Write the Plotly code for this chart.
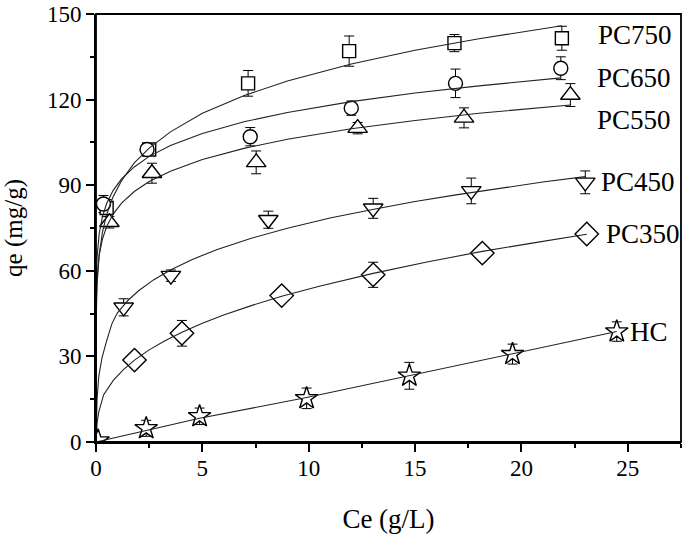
import plotly.graph_objects as go

# ---------------- data ----------------
HC_ce = [0.1, 2.36, 4.87, 9.9, 14.73, 19.58, 24.48]
HC_qe = [0.5, 4.8, 9.0, 15.3, 23.2, 30.8, 38.7]
HC_err = [0.5, 2.8, 2.9, 3.6, 4.7, 3.5, 3.4]

PC350_ce = [1.81, 4.04, 8.73, 13.03, 18.16, 23.07]
PC350_qe = [28.7, 38.1, 51.3, 58.6, 66.2, 72.9]
PC350_err = [1.5, 4.5, 1.5, 4.4, 1.5, 1.0]

PC450_ce = [1.3, 3.52, 8.1, 13.03, 17.64, 23.0]
PC450_qe = [47.2, 58.3, 77.9, 81.9, 88.0, 91.0]
PC450_err = [3.0, 2.0, 3.0, 3.5, 4.5, 4.0]

PC550_ce = [0.63, 2.63, 7.53, 12.3, 17.3, 22.3]
PC550_qe = [77.0, 94.2, 98.0, 110.0, 113.6, 121.6]
PC550_err = [2.0, 3.5, 4.0, 2.0, 3.5, 4.0]

PC650_ce = [0.35, 2.4, 7.25, 12.0, 16.9, 21.85]
PC650_qe = [83.4, 102.5, 107.0, 117.0, 125.7, 131.0]
PC650_err = [3.0, 1.5, 3.2, 2.5, 5.0, 4.0]

PC750_ce = [0.5, 2.5, 7.15, 11.9, 16.85, 21.9]
PC750_qe = [82.0, 102.5, 125.7, 137.0, 139.8, 141.5]
PC750_err = [3.0, 2.0, 4.5, 5.3, 3.0, 4.2]

# fitted isotherm curves
FIT750_ce = [0, 0.002, 0.01, 0.05, 0.15, 0.3, 0.5, 0.8, 1.2, 1.8, 2.5, 3.5, 5, 7, 9, 12, 15, 18, 21.9]
FIT750_qe = [0, 33, 42.6, 55.1, 65.7, 73.4, 79.7, 85.9, 91.6, 97.8, 103, 108.7, 115.2, 121.5, 126.5, 132.5, 137.3, 141.3, 145.9]

FIT650_ce = [0, 0.002, 0.01, 0.05, 0.15, 0.3, 0.5, 0.8, 1.2, 1.8, 2.5, 3.5, 5, 7, 9, 12, 15, 18, 21.85]
FIT650_qe = [0, 45.0, 53.9, 64.6, 73.0, 78.9, 83.6, 88.1, 92.2, 96.4, 100.1, 103.9, 108.1, 112.3, 115.5, 119.3, 122.3, 124.8, 127.6]

FIT550_ce = [0, 0.002, 0.01, 0.05, 0.15, 0.3, 0.5, 0.8, 1.2, 1.8, 2.5, 3.5, 5, 7, 9, 12, 15, 18, 22.3]
FIT550_qe = [0, 39.3, 47.6, 57.5, 65.5, 71.0, 75.5, 79.8, 83.7, 87.8, 91.3, 94.9, 99.0, 103.0, 106.1, 109.8, 112.7, 115.2, 118.1]

FIT450_ce = [0, 0.02, 0.05, 0.13, 0.28, 0.52, 0.75, 1.0, 1.5, 2.0, 2.7, 3.5, 4.5, 5.7, 7.3, 9, 11, 13, 15, 17, 19, 21, 23]
FIT450_qe = [0, 9, 15, 23, 29.5, 36, 41.5, 45.2, 49.6, 53.0, 56.8, 60.3, 63.9, 67.5, 71.4, 74.9, 78.5, 81.5, 84.3, 86.7, 89.0, 91.1, 93.0]

FIT350_ce = [0, 0.01, 0.05, 0.13, 0.36, 0.82, 1.29, 1.81, 2.5, 3.2, 4.04, 5, 6, 7.3, 8.73, 10.5, 13.03, 15.5, 18.16, 20.5, 23.07]
FIT350_qe = [0, 3.5, 6.5, 10.6, 16.6, 21.7, 25.4, 28.7, 32.3, 35.3, 38.5, 41.6, 44.5, 47.8, 51.1, 54.6, 59.1, 63.0, 66.8, 69.7, 72.8]

FITHC_ce = [0, 2.4, 4.87, 9.9, 14.73, 19.58, 24.48]
FITHC_qe = [0, 4.2, 8.3, 15.6, 23.2, 30.9, 38.7]

LABELS = ["PC750", "PC650", "PC550", "PC450", "PC350", "HC"]
LABEL_X = [23.5, 23.45, 23.45, 23.65, 23.9, 25.0]
LABEL_Y = [142.5, 127.6, 112.9, 91.2, 73.0, 38.4]

FONT = "Liberation Serif"

fig = go.Figure()

series = [
    (PC750_ce, PC750_qe, PC750_err, "square", 13),
    (PC650_ce, PC650_qe, PC650_err, "circle", 14),
    (PC550_ce, PC550_qe, PC550_err, "triangle-up", 17),
    (PC450_ce, PC450_qe, PC450_err, "triangle-down", 17),
    (PC350_ce, PC350_qe, PC350_err, "diamond", 18),
    (HC_ce, HC_qe, HC_err, "star", 17),
]

# error bars first (hidden markers), so the white-filled symbols sit on top of them
for (sx, sy, se, sym, sz), name in zip(series, LABELS):
    fig.add_trace(go.Scatter(
        x=sx, y=sy, mode="markers", showlegend=False, hoverinfo="skip",
        marker=dict(size=1, opacity=0),
        error_y=dict(type="data", array=se, visible=True, color="black", thickness=1, width=5),
    ))

for (sx, sy, se, sym, sz), name in zip(series, LABELS):
    fig.add_trace(go.Scatter(
        x=sx, y=sy, mode="markers", name=name, showlegend=False,
        marker=dict(symbol=sym, size=sz, color="white", line=dict(color="black", width=1.4)),
    ))

fits = [
    (FIT750_ce, FIT750_qe),
    (FIT650_ce, FIT650_qe),
    (FIT550_ce, FIT550_qe),
    (FIT450_ce, FIT450_qe),
    (FIT350_ce, FIT350_qe),
    (FITHC_ce, FITHC_qe),
]
for fx, fy in fits:
    fig.add_trace(go.Scatter(x=fx, y=fy, mode="lines",
                             line=dict(color="#222222", width=1.1),
                             showlegend=False, hoverinfo="skip"))

for t, lx, ly in zip(LABELS, LABEL_X, LABEL_Y):
    fig.add_annotation(x=lx, y=ly, text=t, showarrow=False, xanchor="left", yanchor="middle",
                       font=dict(family=FONT, size=27, color="black"))

# frame around the plot area
fig.add_shape(type="rect", xref="paper", yref="paper", x0=0, x1=1, y0=0, y1=1,
              line=dict(color="black", width=1.8), fillcolor="rgba(0,0,0,0)", layer="above")

axis_common = dict(
    showgrid=False, zeroline=False, showline=True, linecolor="black", linewidth=1.8,
    mirror=False, ticks="outside", tickcolor="black", tickwidth=1.5, ticklen=8,
    tickfont=dict(family=FONT, size=23, color="black"),
    ticklabeloverflow="allow",
)

fig.update_xaxes(range=[0, 27.5], tickvals=[0, 5, 10, 15, 20, 25],
                 minor=dict(dtick=2.5, tick0=0, ticks="outside", ticklen=4, tickcolor="black", tickwidth=1.5, showgrid=False),
                 title=dict(text="Ce (g/L)", font=dict(family=FONT, size=27, color="black"), standoff=30),
                 ticklabelstandoff=-4,
                 automargin=False, **axis_common)
fig.update_yaxes(range=[0, 150], tickvals=[0, 30, 60, 90, 120, 150],
                 minor=dict(dtick=15, tick0=0, ticks="outside", ticklen=4, tickcolor="black", tickwidth=1.5, showgrid=False),
                 title=dict(text="qe (mg/g)", font=dict(family=FONT, size=25, color="black"), standoff=23),
                 automargin=False, **axis_common)

fig.update_layout(
    width=685, height=536,
    margin=dict(l=96, r=4, t=14, b=94),
    paper_bgcolor="white", plot_bgcolor="white",
    showlegend=False,
)

# remove the default 8 px page margin so the figure fills the window exactly
fig.write_html("out.html", config={"displayModeBar": False},
               post_script="document.body.style.margin='0px';")
